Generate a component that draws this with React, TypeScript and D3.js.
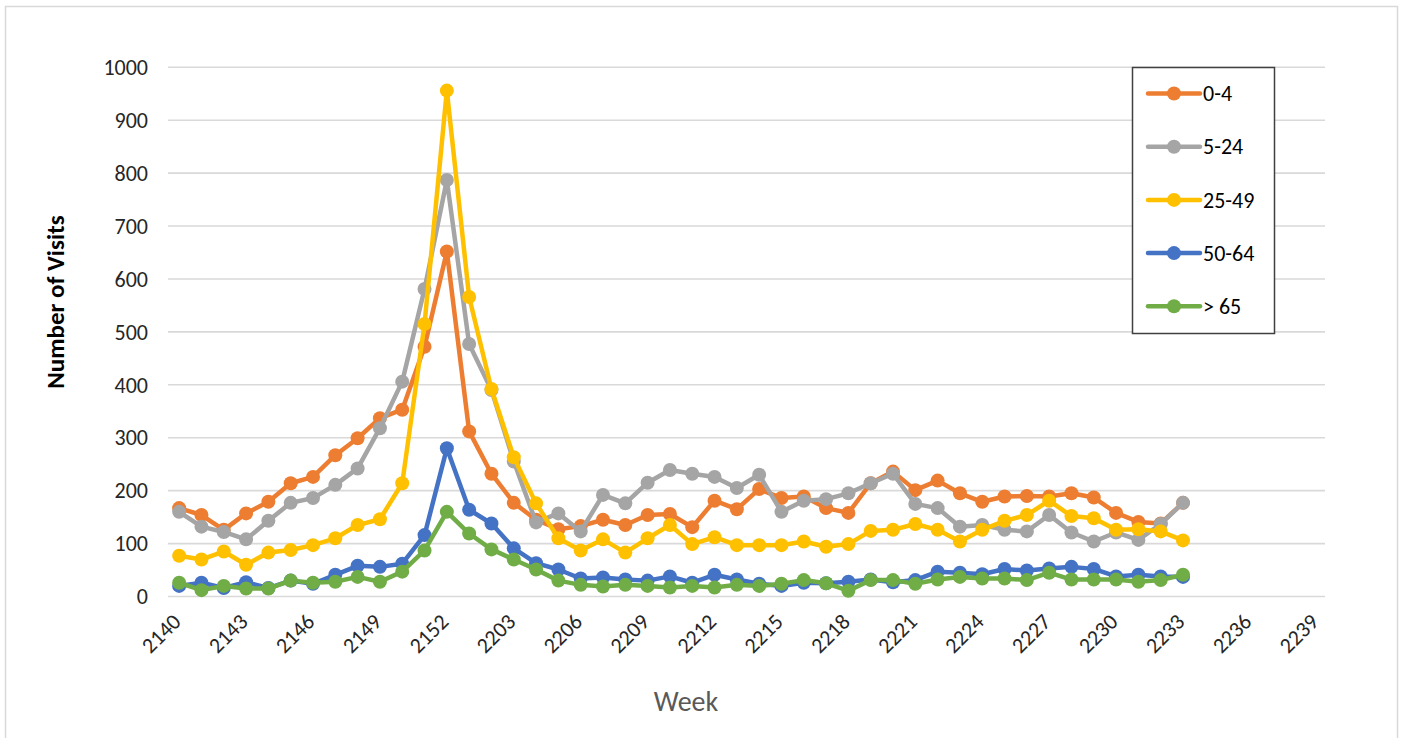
import React from 'react';
import * as d3 from 'd3';

const weeks = [
  '2140', '2141', '2142', '2143', '2144', '2145', '2146', '2147', '2148', '2149', '2150', '2151', '2152',
  '2201', '2202', '2203', '2204', '2205', '2206', '2207', '2208', '2209', '2210', '2211', '2212', '2213',
  '2214', '2215', '2216', '2217', '2218', '2219', '2220', '2221', '2222', '2223', '2224', '2225', '2226',
  '2227', '2228', '2229', '2230', '2231', '2232', '2233', '2234', '2235', '2236', '2237', '2238', '2239',
];

const age0to4 = [
  167, 154, 126, 157, 179, 214, 226, 267, 299, 337, 353, 472, 652,
  312, 232, 177, 145, 127, 133, 145, 135, 154, 156, 131, 181, 165,
  203, 186, 189, 167, 158, 214, 236, 201, 219, 195, 179, 189, 190,
  189, 195, 187, 158, 141, 138, 177,
];
const age5to24 = [
  160, 132, 122, 108, 143, 177, 186, 211, 242, 318, 406, 581, 787,
  477, 390, 255, 140, 157, 123, 192, 176, 215, 239, 232, 226, 205,
  230, 160, 181, 184, 195, 214, 232, 175, 167, 132, 135, 126, 123,
  154, 121, 104, 121, 107, 137, 177,
];
const age25to49 = [
  77, 70, 85, 60, 83, 88, 97, 110, 135, 146, 214, 515, 956,
  566, 392, 263, 176, 110, 87, 108, 83, 110, 135, 99, 112, 97,
  97, 97, 104, 94, 99, 124, 126, 137, 126, 104, 126, 143, 154,
  181, 152, 148, 126, 127, 123, 106,
];
const age50to64 = [
  20, 26, 16, 27, 16, 30, 24, 41, 58, 56, 62, 116, 280,
  164, 138, 91, 63, 51, 34, 36, 32, 30, 38, 26, 41, 32,
  24, 20, 26, 25, 28, 32, 27, 31, 47, 45, 42, 52, 49,
  53, 56, 52, 38, 41, 38, 37,
];
const age65plus = [
  26, 12, 20, 15, 15, 30, 26, 28, 37, 28, 47, 87, 160,
  119, 89, 70, 51, 30, 22, 19, 22, 20, 17, 20, 17, 22,
  20, 24, 31, 25, 11, 31, 31, 24, 32, 37, 34, 34, 31,
  45, 32, 32, 32, 28, 31, 41,
];

const seriesNames = ['0-4', '5-24', '25-49', '50-64', '> 65'];
const seriesValues = [age0to4, age5to24, age25to49, age50to64, age65plus];
const seriesColors = ['#ED7D31', '#A5A5A5', '#FFC000', '#4472C4', '#70AD47'];
const yTicks = [0, 100, 200, 300, 400, 500, 600, 700, 800, 900, 1000];

const font = 'Calibri, Carlito, Lato, "Open Sans", sans-serif';

export default function App() {
  const W = 1405;
  const H = 738;
  const left = 168;
  const right = 1328;
  const top = 67.3;
  const bottom = 596.5;

  const x = d3.scaleBand<string>().domain(weeks).range([left, right]);
  const y = d3.scaleLinear().domain([0, 1000]).range([bottom, top]);
  const cx = (w: string) => (x(w) as number) + x.bandwidth() / 2;

  const line = d3
    .line<number>()
    .x((_, i) => cx(weeks[i]))
    .y((v) => y(v));

  const labelWeeks = weeks.filter((_, i) => i % 3 === 0);

  return (
    <svg
      width={W}
      height={H}
      style={{ position: 'absolute', left: 0, top: 0, background: '#fff' }}
      fontFamily={font}
    >
      <rect x={5.5} y={6.5} width={1392} height={740} fill="#fff" stroke="#d9d9d9" strokeWidth={1.5} />

      {yTicks.map((t) => (
        <g key={t}>
          <line x1={left} x2={1325} y1={y(t)} y2={y(t)} stroke="#d9d9d9" strokeWidth={1.6} />
          <text x={148} y={y(t)} dy="0.35em" textAnchor="end" fontSize={22} fill="#262626">
            {t}
          </text>
        </g>
      ))}

      {labelWeeks.map((w) => (
        <text
          key={w}
          transform={`translate(${cx(w) + 3},${623}) rotate(-45)`}
          textAnchor="end"
          fontSize={22}
          fill="#262626"
        >
          {w}
        </text>
      ))}

      <text
        transform={`translate(${64},${302}) rotate(-90)`}
        textAnchor="middle"
        fontSize={25}
        fontWeight="bold"
        fill="#000"
      >
        Number of Visits
      </text>
      <text x={686} y={711} textAnchor="middle" fontSize={28} fill="#595959">
        Week
      </text>

      {seriesValues.map((vals, s) => (
        <g key={seriesNames[s]}>
          <path d={line(vals) || ''} fill="none" stroke={seriesColors[s]} strokeWidth={4.5} strokeLinejoin="round" />
          {vals.map((v, i) => (
            <circle key={i} cx={cx(weeks[i])} cy={y(v)} r={7} fill={seriesColors[s]} />
          ))}
        </g>
      ))}

      <rect x={1132.5} y={67.5} width={142} height={266} fill="#fff" stroke="#404040" strokeWidth={1.5} />
      {seriesNames.map((name, s) => {
        const ly = 93.5 + s * 53.2;
        return (
          <g key={name}>
            <line x1={1148} x2={1200} y1={ly} y2={ly} stroke={seriesColors[s]} strokeWidth={4.5} strokeLinecap="round" />
            <circle cx={1174} cy={ly} r={7} fill={seriesColors[s]} />
            <text x={1203} y={ly} dy="0.35em" fontSize={22} fill="#000">
              {name}
            </text>
          </g>
        );
      })}
    </svg>
  );
}
